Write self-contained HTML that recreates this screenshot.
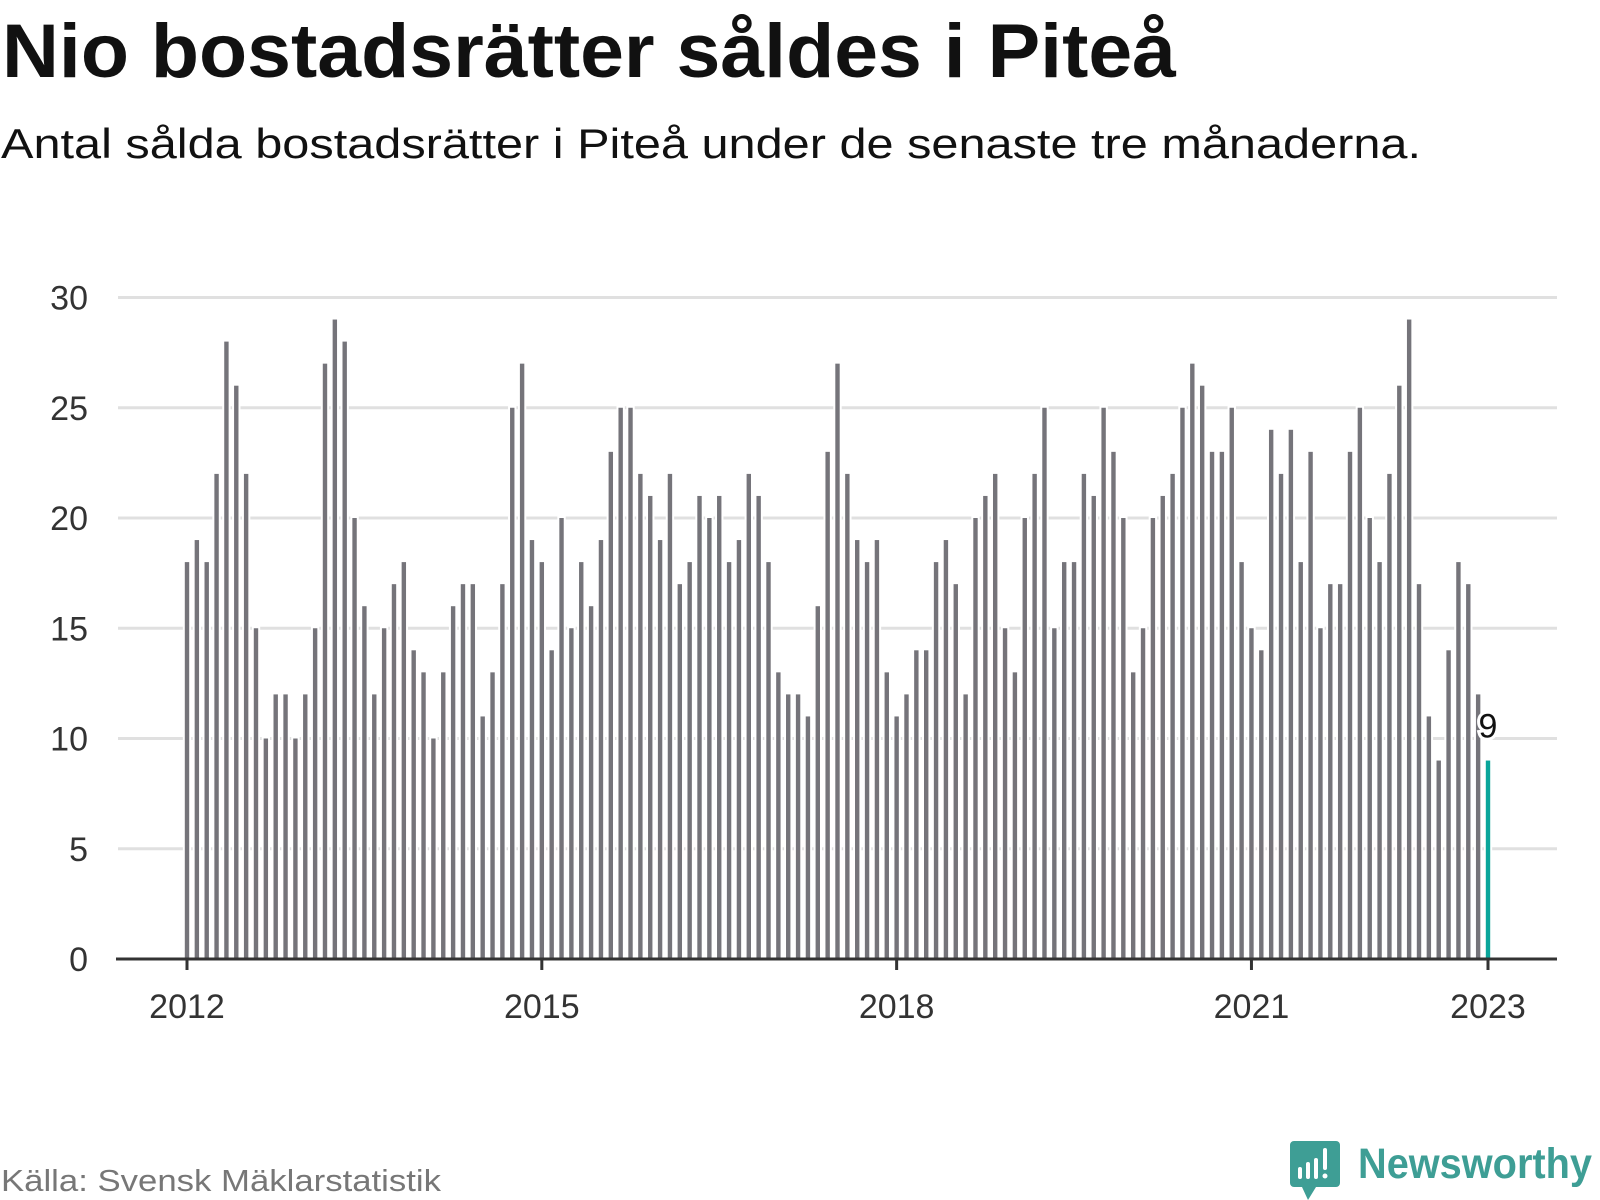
<!DOCTYPE html>
<html><head><meta charset="utf-8"><style>
html,body{margin:0;padding:0;background:#fff;}
svg{display:block;font-family:"Liberation Sans",sans-serif;}
</style></head><body>
<svg id="chart" width="1600" height="1200" viewBox="0 0 1600 1200">
<text x="2" y="77" font-size="76" font-weight="bold" fill="#111" textLength="1174" lengthAdjust="spacingAndGlyphs">Nio bostadsrätter såldes i Piteå</text>
<text x="1" y="158" font-size="42" fill="#111" textLength="1420" lengthAdjust="spacingAndGlyphs">Antal sålda bostadsrätter i Piteå under de senaste tre månaderna.</text>
<g id="grid"></g>
<g id="bars"></g>
<g id="axes"></g>
<text x="1" y="1191" font-size="31" fill="#777" textLength="440" lengthAdjust="spacingAndGlyphs">Källa: Svensk Mäklarstatistik</text>
<g>
<path d="M1294 1141 h42 a4 4 0 0 1 4 4 v38 a4 4 0 0 1 -4 4 h-20 l-8 13 l-6 -13 h-8 a4 4 0 0 1 -4 -4 v-38 a4 4 0 0 1 4 -4z" fill="#3e9e95"/>
<rect x="1298" y="1167" width="4" height="12" rx="2" fill="#fff"/>
<rect x="1306" y="1162" width="4" height="17" rx="2" fill="#fff"/>
<rect x="1314" y="1158" width="4" height="21" rx="2" fill="#fff"/>
<rect x="1323" y="1148" width="4" height="22" rx="2" fill="#fff"/>
<circle cx="1325" cy="1176" r="2.5" fill="#fff"/>
<text x="1358" y="1178" font-size="43" font-weight="bold" fill="#3e9e95" textLength="234" lengthAdjust="spacingAndGlyphs">Newsworthy</text>
</g>
</svg>
<script>
const startYear = 2012;
const values = [
18,19,18,22,28,26,22,15,10,12,12,10,
12,15,27,29,28,20,16,12,15,17,18,14,
13,10,13,16,17,17,11,13,17,25,27,19,
18,14,20,15,18,16,19,23,25,25,22,21,
19,22,17,18,21,20,21,18,19,22,21,18,
13,12,12,11,16,23,27,22,19,18,19,13,
11,12,14,14,18,19,17,12,20,21,22,15,
13,20,22,25,15,18,18,22,21,25,23,20,
13,15,20,21,22,25,27,26,23,23,25,18,
15,14,24,22,24,18,23,15,17,17,23,25,
20,18,22,26,29,17,11,9,14,18,17,12,
9];
const yTicks = [0,5,10,15,20,25,30];
const xTickLabels = ["2012","2015","2018","2021","2023"];
const xTickIndex = [0,36,72,108,132];

const NS="http://www.w3.org/2000/svg";
const x0=187, x1=1488, y0=959, yTop=297.5, yMax=30;
const xs = i => x0 + (x1-x0)*i/(values.length-1);
const ys = v => y0 - (y0-yTop)*v/yMax;
function mk(tag, attrs, parent){const e=document.createElementNS(NS,tag);for(const k in attrs)e.setAttribute(k,attrs[k]);parent.appendChild(e);return e;}
const grid=document.getElementById('grid'), barsG=document.getElementById('bars'), axes=document.getElementById('axes');
yTicks.forEach(t=>{
  if(t>0){
    const l=mk('line',{x1:118,x2:1557,y1:ys(t),y2:ys(t),stroke:'#e0e0e0','stroke-width':3},grid);
    
    
  }
  const tx=mk('text',{x:88,y:ys(t)+12,'font-size':34,fill:'#333','text-anchor':'end'},axes);
  tx.textContent=t;
  
  
});
values.forEach((v,i)=>{
  const last=i===values.length-1;
  const r=mk('rect',{x:xs(i)-2.2,y:ys(v),width:4.4,height:y0-ys(v),fill:last?'#0aa59a':'#75747a',stroke:'#fff','stroke-width':4,'paint-order':'stroke'},barsG);
  
  
});
const li=values.length-1;
const lab=mk('text',{x:xs(li),y:ys(values[li])-23,'font-size':34,fill:'#111','text-anchor':'middle',stroke:'#fff','stroke-width':6,'paint-order':'stroke'},barsG);
lab.textContent=values[li];


const ax=mk('line',{x1:116,x2:1557,y1:y0,y2:y0,stroke:'#333','stroke-width':3},axes);


xTickIndex.forEach((idx,k)=>{
  const tk=mk('line',{x1:xs(idx),x2:xs(idx),y1:y0,y2:y0+11,stroke:'#333','stroke-width':3},axes);
  
  
  const tx=mk('text',{x:xs(idx),y:1018,'font-size':34,fill:'#333','text-anchor':'middle'},axes);
  tx.textContent=xTickLabels[k];
  
  
});
</script>
</body></html>
